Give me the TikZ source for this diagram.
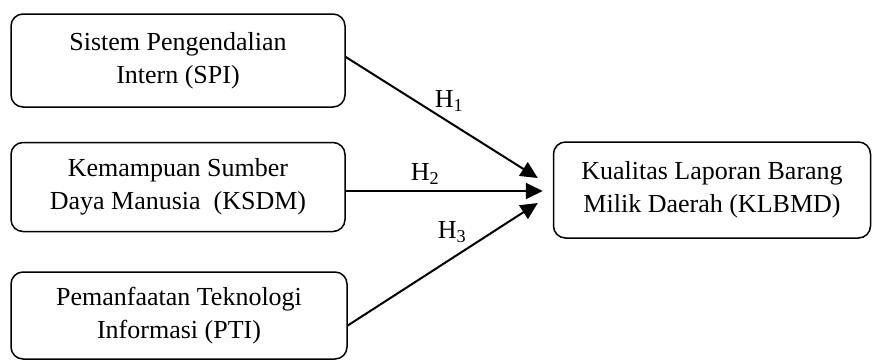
\documentclass[tikz,border=0pt]{standalone}
\usepackage{fontspec}
\setmainfont{Liberation Serif}
\usetikzlibrary{arrows.meta}
\begin{document}
\begin{tikzpicture}[x=1pt,y=-1pt,
  box/.style={draw, line width=1.5pt, rounded corners=12pt, align=center,
    inner sep=0pt, font=\fontsize{26}{33}\selectfont},
  conn/.style={line width=2pt, -{Triangle[length=17pt,width=16pt]}},
  lab/.style={font=\fontsize{26}{30}\selectfont, inner sep=0pt}]
\useasboundingbox (0,0) rectangle (872,360);
\node[box, minimum width=334pt, minimum height=93pt] (spi) at (178,60.5)
  {Sistem Pengendalian\\Intern (SPI)};
\node[box, minimum width=334pt, minimum height=89pt] (ksdm) at (178,187)
  {Kemampuan Sumber\\Daya Manusia\ \ (KSDM)};
\node[box, minimum width=336pt, minimum height=87pt] (pti) at (179,315.5)
  {Pemanfaatan Teknologi\\Informasi (PTI)};
\node[box, minimum width=317pt, minimum height=96pt] (klbmd) at (712,190)
  {Kualitas Laporan Barang\\Milik Daerah (KLBMD)};
\coordinate (t1) at ([xshift=-15pt,yshift=12pt]klbmd.west);
\coordinate (t2) at ([xshift=-10pt,yshift=-1pt]klbmd.west);
\coordinate (t3) at ([xshift=-15pt,yshift=-13pt]klbmd.west);
\draw[conn] ([yshift=3.5pt]spi.east) -- (t1);
\draw[conn] ([yshift=-4pt]ksdm.east) -- (t2);
\draw[conn] ([yshift=-10pt]pti.east) -- (t3);
\node[lab] (h1) at (449,101) {H\textsubscript{1}};
\node[lab] (h2) at (425,174) {H\textsubscript{2}};
\node[lab] (h3) at (452,232) {H\textsubscript{3}};
\end{tikzpicture}
\end{document}
